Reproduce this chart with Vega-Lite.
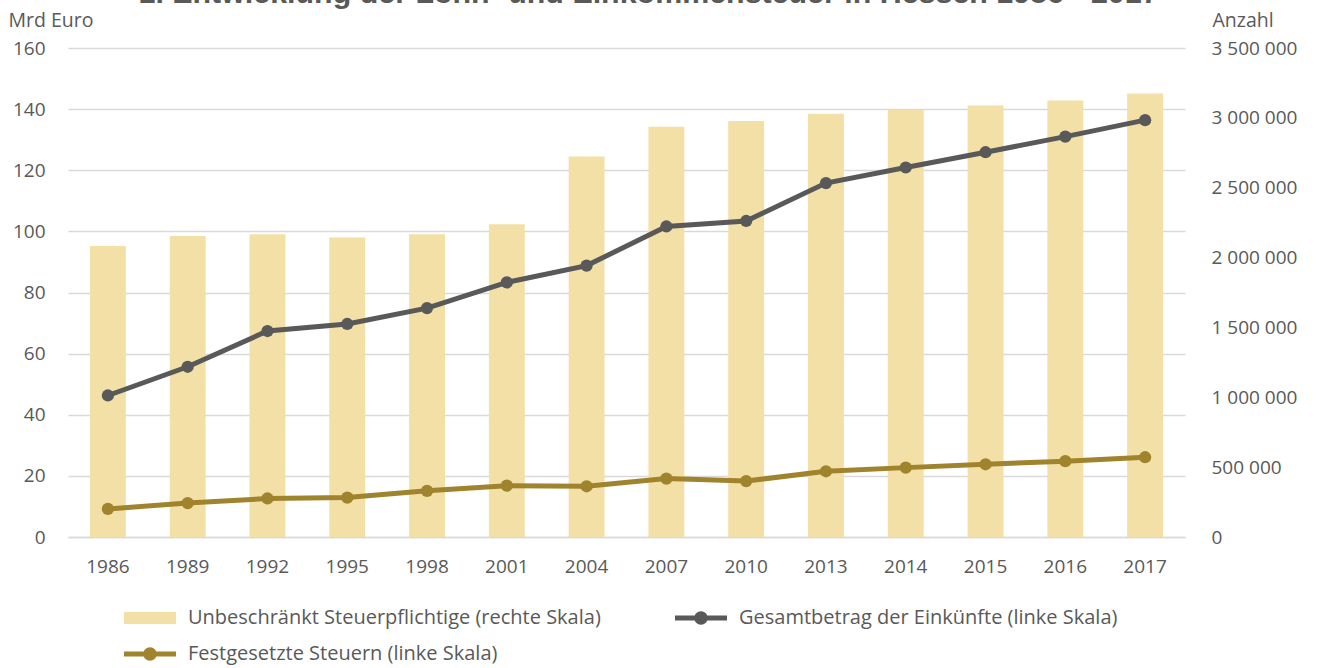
{
  "$schema": "https://vega.github.io/schema/vega-lite/v6.json",
  "width": 1117,
  "height": 489,
  "autosize": {"type": "none"},
  "padding": {"left": 68, "top": 48, "right": 132, "bottom": 131},
  "background": "white",
  "title": {
    "text": "1. Entwicklung der Lohn- und Einkommensteuer in Hessen 1986 - 2017",
    "font": "Liberation Sans",
    "fontSize": 30.4,
    "fontWeight": "bold",
    "color": "#595959",
    "anchor": "middle",
    "frame": "group",
    "baseline": "alphabetic",
    "offset": 0,
    "dx": 22,
    "dy": 23
  },
  "datasets": {
    "bars": [
      {"year": "1986", "anzahl": 2083000},
      {"year": "1989", "anzahl": 2155000},
      {"year": "1992", "anzahl": 2167000},
      {"year": "1995", "anzahl": 2143000},
      {"year": "1998", "anzahl": 2167000},
      {"year": "2001", "anzahl": 2239000},
      {"year": "2004", "anzahl": 2723000},
      {"year": "2007", "anzahl": 2936000},
      {"year": "2010", "anzahl": 2977000},
      {"year": "2013", "anzahl": 3029000},
      {"year": "2014", "anzahl": 3058000},
      {"year": "2015", "anzahl": 3089000},
      {"year": "2016", "anzahl": 3124000},
      {"year": "2017", "anzahl": 3175000}
    ],
    "lines": [
      {"year": "1986", "series": "Gesamtbetrag der Einkünfte (linke Skala)", "value": 46.3},
      {"year": "1989", "series": "Gesamtbetrag der Einkünfte (linke Skala)", "value": 55.7},
      {"year": "1992", "series": "Gesamtbetrag der Einkünfte (linke Skala)", "value": 67.4},
      {"year": "1995", "series": "Gesamtbetrag der Einkünfte (linke Skala)", "value": 69.7},
      {"year": "1998", "series": "Gesamtbetrag der Einkünfte (linke Skala)", "value": 74.9},
      {"year": "2001", "series": "Gesamtbetrag der Einkünfte (linke Skala)", "value": 83.3},
      {"year": "2004", "series": "Gesamtbetrag der Einkünfte (linke Skala)", "value": 88.8},
      {"year": "2007", "series": "Gesamtbetrag der Einkünfte (linke Skala)", "value": 101.6},
      {"year": "2010", "series": "Gesamtbetrag der Einkünfte (linke Skala)", "value": 103.4},
      {"year": "2013", "series": "Gesamtbetrag der Einkünfte (linke Skala)", "value": 115.8},
      {"year": "2014", "series": "Gesamtbetrag der Einkünfte (linke Skala)", "value": 120.9},
      {"year": "2015", "series": "Gesamtbetrag der Einkünfte (linke Skala)", "value": 125.9},
      {"year": "2016", "series": "Gesamtbetrag der Einkünfte (linke Skala)", "value": 131.0},
      {"year": "2017", "series": "Gesamtbetrag der Einkünfte (linke Skala)", "value": 136.4},
      {"year": "1986", "series": "Festgesetzte Steuern (linke Skala)", "value": 9.2},
      {"year": "1989", "series": "Festgesetzte Steuern (linke Skala)", "value": 11.1},
      {"year": "1992", "series": "Festgesetzte Steuern (linke Skala)", "value": 12.6},
      {"year": "1995", "series": "Festgesetzte Steuern (linke Skala)", "value": 12.9},
      {"year": "1998", "series": "Festgesetzte Steuern (linke Skala)", "value": 15.1},
      {"year": "2001", "series": "Festgesetzte Steuern (linke Skala)", "value": 16.8},
      {"year": "2004", "series": "Festgesetzte Steuern (linke Skala)", "value": 16.6},
      {"year": "2007", "series": "Festgesetzte Steuern (linke Skala)", "value": 19.1},
      {"year": "2010", "series": "Festgesetzte Steuern (linke Skala)", "value": 18.3},
      {"year": "2013", "series": "Festgesetzte Steuern (linke Skala)", "value": 21.5},
      {"year": "2014", "series": "Festgesetzte Steuern (linke Skala)", "value": 22.7},
      {"year": "2015", "series": "Festgesetzte Steuern (linke Skala)", "value": 23.8},
      {"year": "2016", "series": "Festgesetzte Steuern (linke Skala)", "value": 24.8},
      {"year": "2017", "series": "Festgesetzte Steuern (linke Skala)", "value": 26.1}
    ]
  },
  "encoding": {
    "x": {
      "field": "year",
      "type": "ordinal",
      "scale": {"paddingInner": 0.55, "paddingOuter": 0.275},
      "axis": {
        "title": null,
        "labelAngle": 0,
        "ticks": false,
        "domain": true,
        "domainColor": "#D9D9D9",
        "domainWidth": 1.5,
        "labelPadding": 20,
        "grid": false
      }
    }
  },
  "layer": [
    {
      "data": {"name": "bars"},
      "mark": {"type": "bar"},
      "encoding": {
        "y": {
          "field": "anzahl",
          "type": "quantitative",
          "scale": {"domain": [0, 3500000], "nice": false},
          "axis": {
            "orient": "right",
            "title": "Anzahl",
            "titleAngle": 0,
            "titleAlign": "left",
            "titleBaseline": "alphabetic",
            "titleX": 27,
            "titleY": -21.5,
            "values": [0, 500000, 1000000, 1500000, 2000000, 2500000, 3000000, 3500000],
            "format": ",d",
            "grid": false,
            "domain": false,
            "ticks": false,
            "labelPadding": 26
          }
        },
        "color": {
          "datum": "Unbeschränkt Steuerpflichtige (rechte Skala)",
          "type": "nominal",
          "scale": {
            "domain": ["Unbeschränkt Steuerpflichtige (rechte Skala)", "Gesamtbetrag der Einkünfte (linke Skala)", "Festgesetzte Steuern (linke Skala)"],
            "range": ["#F2E0A6", "#595959", "#A0832D"]
          },
          "legend": {
            "values": ["Unbeschränkt Steuerpflichtige (rechte Skala)", "Gesamtbetrag der Einkünfte (linke Skala)", "Festgesetzte Steuern (linke Skala)"],
            "direction": "horizontal",
            "symbolType": {"expr": "datum.value === 'Unbeschränkt Steuerpflichtige (rechte Skala)' ? 'M-1,-0.23H1V0.23H-1Z' : 'M-1,-0.1H-0.2V0.1H-1Z M0.2,-0.1H1V0.1H0.2Z M-0.26,0A0.26,0.26 0 1,1 0.26,0A0.26,0.26 0 1,1 -0.26,0Z'"}
          }
        }
      }
    },
    {
      "data": {"name": "lines"},
      "mark": {"type": "line", "strokeWidth": 5, "point": {"filled": true, "size": 150}},
      "encoding": {
        "y": {
          "field": "value",
          "type": "quantitative",
          "scale": {"domain": [0, 160], "nice": false},
          "axis": {
            "orient": "left",
            "title": "Mrd Euro",
            "titleAngle": 0,
            "titleAlign": "left",
            "titleBaseline": "alphabetic",
            "titleX": -60,
            "titleY": -21.5,
            "values": [0, 20, 40, 60, 80, 100, 120, 140, 160],
            "grid": true,
            "gridColor": "#D9D9D9",
            "gridWidth": 1.5,
            "domain": false,
            "ticks": false,
            "labelPadding": 23
          }
        },
        "color": {
          "field": "series",
          "type": "nominal",
          "scale": {
            "domain": ["Unbeschränkt Steuerpflichtige (rechte Skala)", "Gesamtbetrag der Einkünfte (linke Skala)", "Festgesetzte Steuern (linke Skala)"],
            "range": ["#F2E0A6", "#595959", "#A0832D"]
          },
          "legend": {
            "values": ["Unbeschränkt Steuerpflichtige (rechte Skala)", "Gesamtbetrag der Einkünfte (linke Skala)", "Festgesetzte Steuern (linke Skala)"],
            "direction": "horizontal"
          }
        }
      }
    }
  ],
  "resolve": {"scale": {"y": "independent"}},
  "config": {
    "locale": {"number": {"decimal": ",", "thousands": " ", "grouping": [3], "currency": ["", " €"]}},
    "view": {"stroke": null},
    "axis": {
      "labelFont": "Open Sans",
      "labelFontSize": 19,
      "labelColor": "#595959",
      "titleFont": "Open Sans",
      "titleFontSize": 19.5,
      "titleFontWeight": "normal",
      "titleColor": "#595959"
    },
    "legend": {
      "orient": "none",
      "direction": "horizontal",
      "legendX": 56,
      "legendY": 544,
      "title": null,
      "columns": 2,
      "columnPadding": 74,
      "rowPadding": -6,
      "padding": 0,
      "labelFont": "Open Sans",
      "labelFontSize": 20,
      "labelColor": "#595959",
      "labelOffset": 12,
      "labelLimit": 0,
      "symbolSize": 2704,
      "symbolStrokeWidth": 0
    }
  }
}
